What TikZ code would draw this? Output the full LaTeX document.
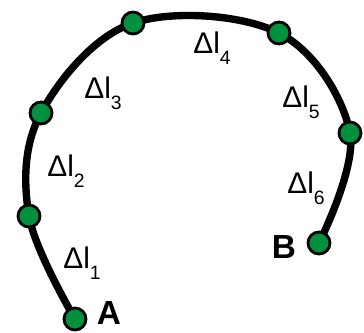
\documentclass[tikz,border=0pt]{standalone}
\usepackage{fontspec}
\setmainfont{Liberation Sans}
\usetikzlibrary{backgrounds}

\definecolor{dotgreen}{RGB}{0,145,62}
\newcommand{\dl}[1]{Δl\raisebox{-6pt}{\fontsize{11}{12}\selectfont #1}}

\begin{document}
\begin{tikzpicture}[
  x=0.02cm, y=-0.02cm,
  dot/.style={circle, draw=black, line width=1.6pt, fill=dotgreen, minimum size=0.44cm, inner sep=0pt},
  path/.style={line width=4.2pt, line cap=round},
  seg/.style={font=\fontsize{17}{19}\selectfont, inner sep=0pt},
  endlabel/.style={font=\fontsize{19}{21}\selectfont\bfseries, inner sep=0pt}
]
\useasboundingbox (0,0) rectangle (364,332);

\node[dot] (a) at (75,319) {};
\node[dot] (p1) at (29,216) {};
\node[dot] (p2) at (41,113) {};
\node[dot] (p3) at (133,23) {};
\node[dot] (p4) at (279,33) {};
\node[dot] (p5) at (350,133) {};
\node[dot] (b) at (319,243) {};

\begin{scope}[on background layer]
\draw[path] plot[smooth, tension=0.6] coordinates {(a) (p1) (p2) (p3) (p4) (p5) (b)};
\end{scope}

\node[seg] (l1) at (82,263) {\dl{1}};
\node[seg] (l2) at (66,171) {\dl{2}};
\node[seg] (l3) at (103,93) {\dl{3}};
\node[seg] (l4) at (212,48) {\dl{4}};
\node[seg] (l5) at (301,102) {\dl{5}};
\node[seg] (l6) at (306,188) {\dl{6}};

\node[endlabel] (la) at (109,313) {A};
\node[endlabel] (lb) at (284,247) {B};

\end{tikzpicture}
\end{document}
